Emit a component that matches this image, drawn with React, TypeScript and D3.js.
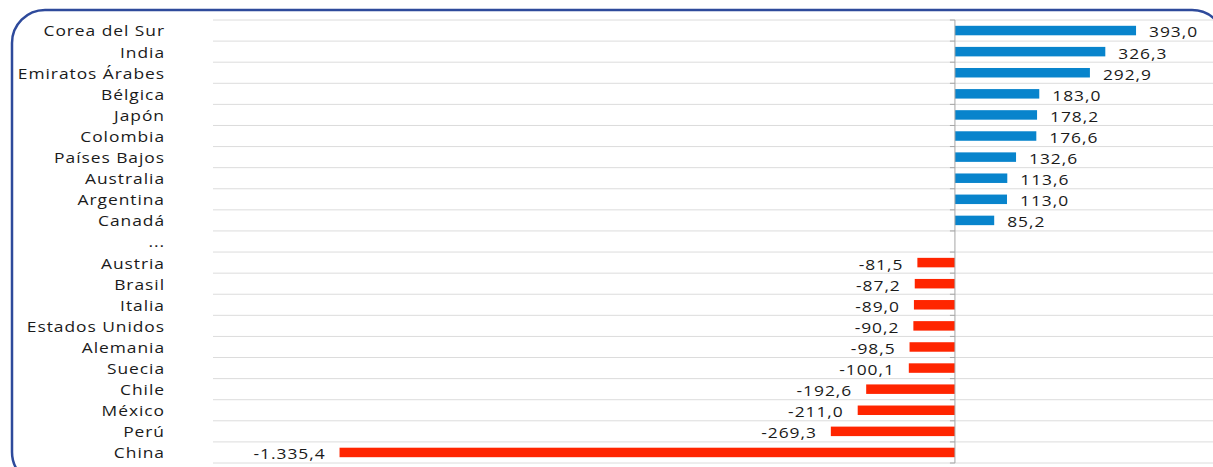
import React from 'react';
import { scaleBand, scaleLinear, format } from 'd3';

const countries = [
  'Corea del Sur', 'India', 'Emiratos Árabes', 'Bélgica', 'Japón', 'Colombia',
  'Países Bajos', 'Australia', 'Argentina', 'Canadá', '...',
  'Austria', 'Brasil', 'Italia', 'Estados Unidos', 'Alemania', 'Suecia',
  'Chile', 'México', 'Perú', 'China',
];
const values: (number | null)[] = [
  393.0, 326.3, 292.9, 183.0, 178.2, 176.6,
  132.6, 113.6, 113.0, 85.2, null,
  -81.5, -87.2, -89.0, -90.2, -98.5, -100.1,
  -192.6, -211.0, -269.3, -1335.4,
];
const xDomain = [-1610, 560];

const W = 1213, H = 467;
const FONT = '"Open Sans", sans-serif';
const FS = 14.5;
const LS = 0.8;
const SX = 1.2; // the source text is drawn wide

// 1.335,4 style: dot thousands, comma decimals
const fmt = (v: number) => {
  const s = format(',.1f')(v);
  return s.replace(/,/g, '#').replace('.', ',').replace(/#/g, '.').replace('−', '-');
};

function Label({ x, y, anchor, children }: { x: number; y: number; anchor: string; children: React.ReactNode }) {
  return (
    <text transform={`translate(${x},${y}) scale(${SX},1)`} textAnchor={anchor}
      dominantBaseline="central" fontFamily={FONT} fontSize={FS} letterSpacing={LS}
      fill="#1a1a1a">{children}</text>
  );
}

export default function App() {
  const x = scaleLinear().domain(xDomain).range([213, 1213]);
  const y = scaleBand().domain(countries).range([20, 463]).padding(0);
  const bw = y.bandwidth();
  const x0 = x(0);
  const bounds = countries.map(c => y(c)!).concat([y.range()[1]]);

  return (
    <svg width={W} height={H} style={{ position: 'absolute', left: 0, top: 0, display: 'block' }}>
      <rect width={W} height={H} fill="#fff" />
      {bounds.map((b, i) => (
        <line key={'g' + i} x1={213} x2={W} y1={b} y2={b} stroke="#dcdcdc" strokeWidth={1} />
      ))}
      {bounds.map((b, i) => (
        <line key={'t' + i} x1={x0 - 5} x2={x0} y1={b} y2={b} stroke="#a6a6a6" strokeWidth={1} />
      ))}
      {countries.map((c, i) => {
        const v = values[i];
        const cy = y(c)! + bw / 2;
        return (
          <g key={c}>
            <Label x={165} y={cy + 0.5} anchor="end">{c}</Label>
            {v !== null && (
              <>
                <rect x={Math.min(x(v), x0)} width={Math.abs(x(v) - x0)}
                  y={cy - bw * 0.225} height={bw * 0.45}
                  fill={v >= 0 ? '#0884cc' : '#ff2500'} />
                <Label x={v >= 0 ? x(v) + 13 : x(v) - 14} y={cy + 1.5}
                  anchor={v >= 0 ? 'start' : 'end'}>{fmt(v)}</Label>
              </>
            )}
          </g>
        );
      })}
      <line x1={x0} x2={x0} y1={20} y2={463} stroke="#a6a6a6" strokeWidth={1} />
      <rect x={12} y={10} width={1213} height={475} rx={33} ry={33}
        fill="none" stroke="#2e4a9b" strokeWidth={2.5} />
    </svg>
  );
}
